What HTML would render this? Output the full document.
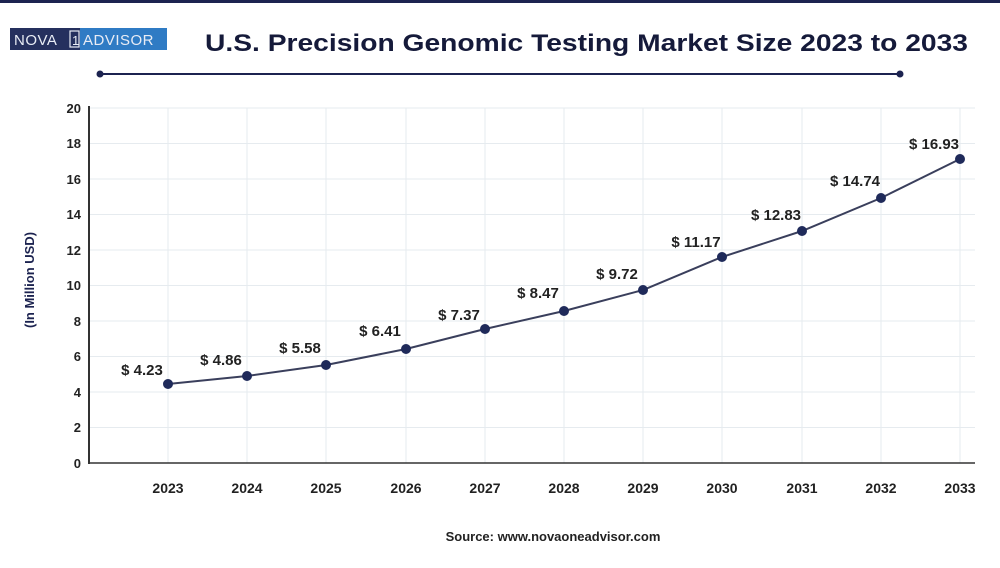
<!DOCTYPE html>
<html><head><style>
body{margin:0;width:1000px;height:563px;background:#fff;overflow:hidden;font-family:"Liberation Sans",sans-serif}
</style></head><body>
<svg width="1000" height="563" xmlns="http://www.w3.org/2000/svg" font-family="Liberation Sans, sans-serif">
<rect x="0" y="0" width="1000" height="3" fill="#1c2350"/>
<rect x="10" y="28" width="70" height="22" fill="#25305e"/>
<rect x="80" y="28" width="87" height="22" fill="#2f7bc4"/>
<text x="14" y="45" font-size="15" fill="#e8ecf5" letter-spacing="0.5">NOVA</text>
<rect x="70" y="31" width="9" height="16" fill="none" stroke="#e8ecf5" stroke-width="1.2"/>
<text x="72" y="45" font-size="13" fill="#e8ecf5">1</text>
<text x="83" y="45" font-size="15" fill="#e8ecf5" letter-spacing="0.5">ADVISOR</text>
<text x="205" y="51" font-size="24" font-weight="bold" fill="#151a3a" textLength="763" lengthAdjust="spacingAndGlyphs">U.S. Precision Genomic Testing Market Size 2023 to 2033</text>
<line x1="100" y1="74" x2="900" y2="74" stroke="#1c2350" stroke-width="2"/>
<circle cx="100" cy="74" r="3.5" fill="#1c2350"/><circle cx="900" cy="74" r="3.5" fill="#1c2350"/>
<g stroke="#e6ebef" stroke-width="1">
<line x1="89" y1="108" x2="975" y2="108"/><line x1="89" y1="143.5" x2="975" y2="143.5"/><line x1="89" y1="179" x2="975" y2="179"/><line x1="89" y1="214.5" x2="975" y2="214.5"/><line x1="89" y1="250" x2="975" y2="250"/><line x1="89" y1="285.5" x2="975" y2="285.5"/><line x1="89" y1="321" x2="975" y2="321"/><line x1="89" y1="356.5" x2="975" y2="356.5"/><line x1="89" y1="392" x2="975" y2="392"/><line x1="89" y1="427.5" x2="975" y2="427.5"/>
<line x1="168" y1="108" x2="168" y2="463"/><line x1="247" y1="108" x2="247" y2="463"/><line x1="326" y1="108" x2="326" y2="463"/><line x1="406" y1="108" x2="406" y2="463"/><line x1="485" y1="108" x2="485" y2="463"/><line x1="564" y1="108" x2="564" y2="463"/><line x1="643" y1="108" x2="643" y2="463"/><line x1="722" y1="108" x2="722" y2="463"/><line x1="802" y1="108" x2="802" y2="463"/><line x1="881" y1="108" x2="881" y2="463"/><line x1="960" y1="108" x2="960" y2="463"/>
</g>
<line x1="89" y1="106" x2="89" y2="464" stroke="#333" stroke-width="2"/>
<line x1="89" y1="463" x2="975" y2="463" stroke="#333" stroke-width="1.5"/>
<g font-size="13" font-weight="bold" fill="#222" text-anchor="end">
<text x="81" y="113">20</text><text x="81" y="148">18</text><text x="81" y="184">16</text><text x="81" y="219">14</text><text x="81" y="255">12</text><text x="81" y="290">10</text><text x="81" y="326">8</text><text x="81" y="361">6</text><text x="81" y="397">4</text><text x="81" y="432">2</text><text x="81" y="468">0</text>
</g>
<text transform="translate(34,280) rotate(-90)" font-size="13" font-weight="bold" fill="#1c2350" text-anchor="middle">(In Million USD)</text>
<g font-size="14" font-weight="bold" fill="#222" text-anchor="middle">
<text x="168" y="493">2023</text><text x="247" y="493">2024</text><text x="326" y="493">2025</text><text x="406" y="493">2026</text><text x="485" y="493">2027</text><text x="564" y="493">2028</text><text x="643" y="493">2029</text><text x="722" y="493">2030</text><text x="802" y="493">2031</text><text x="881" y="493">2032</text><text x="960" y="493">2033</text>
</g>
<polyline fill="none" stroke="#3a3f5c" stroke-width="2" points="168,384 247,376 326,365 406,349 485,329 564,311 643,290 722,257 802,231 881,198 960,159"/>
<g fill="#1f2a5a">
<circle cx="168" cy="384" r="5"/><circle cx="247" cy="376" r="5"/><circle cx="326" cy="365" r="5"/><circle cx="406" cy="349" r="5"/><circle cx="485" cy="329" r="5"/><circle cx="564" cy="311" r="5"/><circle cx="643" cy="290" r="5"/><circle cx="722" cy="257" r="5"/><circle cx="802" cy="231" r="5"/><circle cx="881" cy="198" r="5"/><circle cx="960" cy="159" r="5"/>
</g>
<g font-size="15" font-weight="bold" fill="#222" text-anchor="middle">
<text x="142" y="375">$ 4.23</text><text x="221" y="365">$ 4.86</text><text x="300" y="353">$ 5.58</text><text x="380" y="336">$ 6.41</text><text x="459" y="320">$ 7.37</text><text x="538" y="298">$ 8.47</text><text x="617" y="279">$ 9.72</text><text x="696" y="247">$ 11.17</text><text x="776" y="220">$ 12.83</text><text x="855" y="186">$ 14.74</text><text x="934" y="149">$ 16.93</text>
</g>
<text x="553" y="541" font-size="13" font-weight="bold" fill="#222" text-anchor="middle">Source: www.novaoneadvisor.com</text>
</svg>
</body></html>
